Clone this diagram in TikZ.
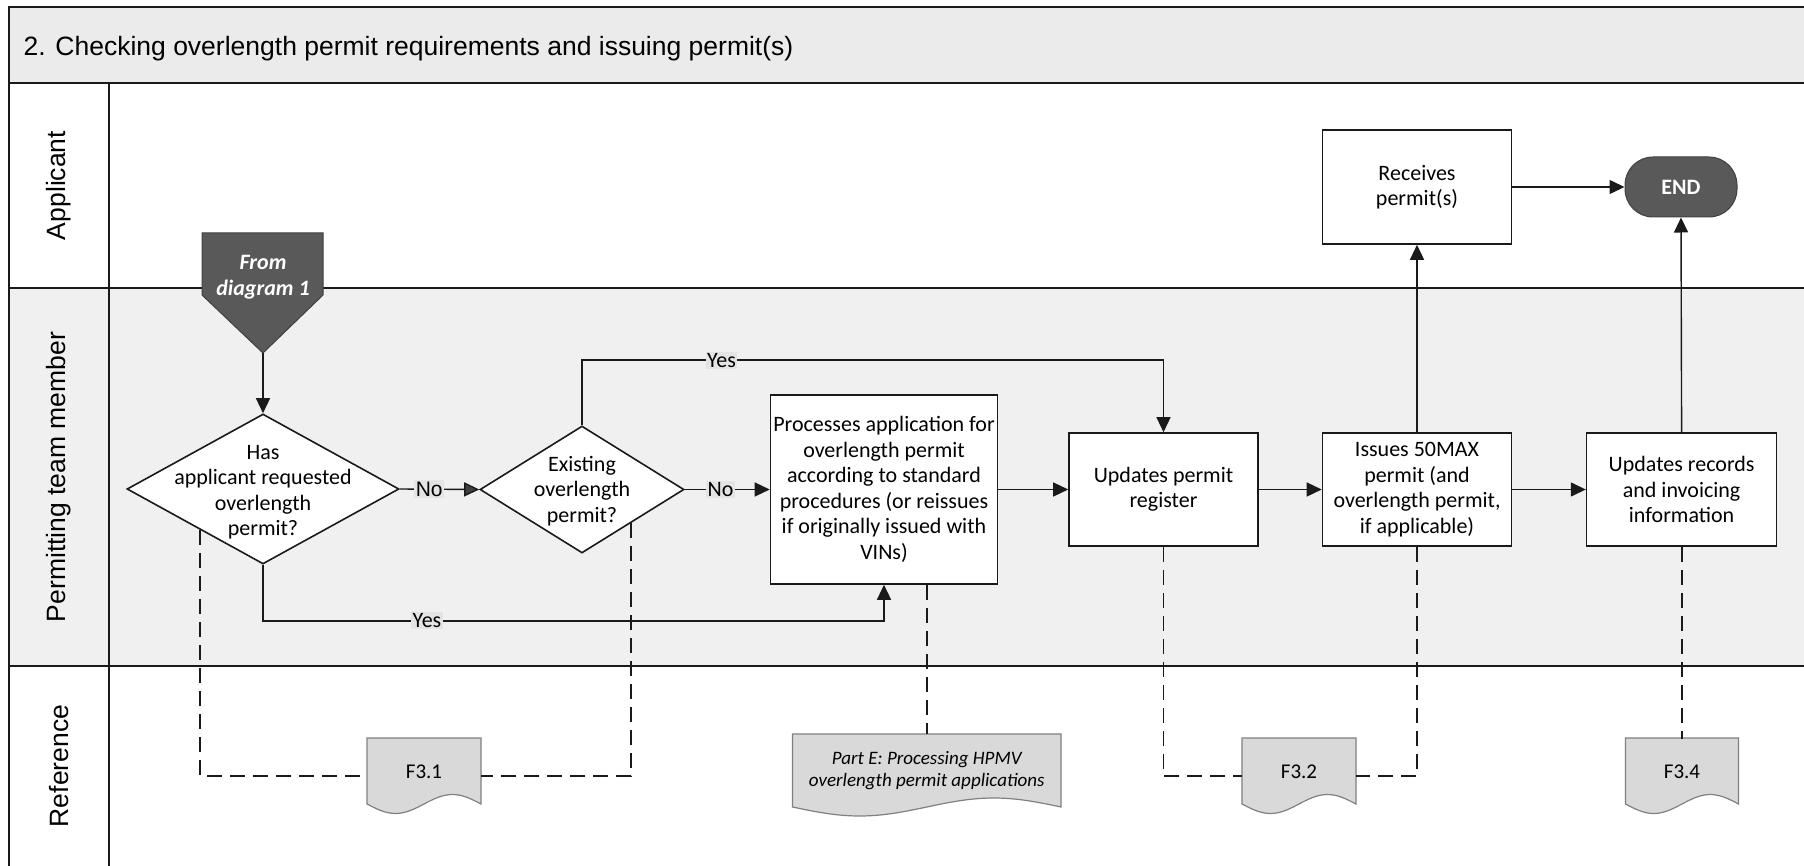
\documentclass[tikz,border=0pt]{standalone}
\usepackage{fontspec}
\setmainfont{Carlito}
\newfontfamily\arialf{Liberation Sans}
\usetikzlibrary{shapes.geometric,arrows.meta,calc}
\definecolor{titlebg}{HTML}{EBEBEB}
\definecolor{lanebg}{HTML}{F0F0F0}
\definecolor{darkfill}{HTML}{595959}
\definecolor{docfill}{HTML}{D9D9D9}
\definecolor{docline}{HTML}{808080}
\definecolor{lblbg}{HTML}{E4E4E4}
\definecolor{lineblk}{HTML}{1A1A1A}
\newcommand\docshape[5]{%
  \filldraw[fill=docfill, draw=docline, line width=1.2pt] (#1,#2) -- (#3,#2) -- (#3,#4)
    sin ({#3-0.25*(#3-#1)},{#4-#5}) cos ({#3-0.5*(#3-#1)},#4)
    sin ({#3-0.75*(#3-#1)},{#4+#5}) cos (#1,#4) -- cycle;}
\begin{document}
\begin{tikzpicture}[x=1pt,y=-1pt,
  lane/.style={line width=2.4pt, draw=lineblk},
  txt/.style={align=center, font=\fontsize{22}{25.5}\selectfont},
  box/.style={txt, draw=lineblk, line width=1.6pt, fill=white, inner sep=2pt},
  dec/.style={txt, diamond, draw=lineblk, line width=1.6pt, fill=white, inner sep=0pt},
  flow/.style={line width=1.4pt, draw=lineblk, -{Triangle[length=15pt,width=14pt]}},
  dashref/.style={line width=1.8pt, draw=lineblk, dash pattern=on 15pt off 8pt},
  lbl/.style={fill=lblbg, inner sep=1.5pt, font=\fontsize{22}{24}\selectfont},
  lanelabel/.style={rotate=90, font=\arialf\fontsize{26.5}{30}\selectfont},
  docnode/.style={inner sep=0pt, align=center, font=\fontsize{21}{24}\selectfont},
]
\useasboundingbox (0,0) rectangle (1804,866);
% swimlane backgrounds
\fill[titlebg] (9,7) rectangle (1804,83);
\fill[lanebg] (9,288) rectangle (1804,666);
\draw[lane] (1804,7) -- (9,7) -- (9,866);
\draw[lane] (9,83) -- (1804,83);
\draw[lane] (9,288) -- (1804,288);
\draw[lane] (9,666) -- (1804,666);
\draw[lane] (109,83) -- (109,866);
\node[anchor=base west, font=\arialf\fontsize{26.5}{30}\selectfont] (title) at (20,56)
  {2. Checking overlength permit requirements and issuing permit(s)};
\node[lanelabel] (laneA) at (59,185.5) {Applicant};
\node[lanelabel] (laneP) at (59,477) {Permitting team member};
\node[lanelabel] (laneR) at (59,766) {Reference};

% off-page connector
\filldraw[fill=darkfill, draw=black!75, line width=1pt]
  (202,233) -- (323,233) -- (323,295) -- (263,353) -- (202,295) -- cycle;
\node[txt, text=white, font=\bfseries\itshape\fontsize{22}{25.5}\selectfont] (from) at (263,277) {From\\diagram 1};
\coordinate (fromtip) at (263,353);

% decisions and process boxes
\node[dec, minimum width=272pt, minimum height=150pt] (d1) at (263,489) {};
\node[txt] (d1t) at (263,492) {Has\\applicant requested\\overlength\\permit?};
\node[dec, minimum width=204pt, minimum height=127pt] (d2) at (582,489.5) {};
\node[txt] (d2t) at (582,491) {Existing\\overlength\\permit?};
\node[box, minimum width=227pt, minimum height=189pt] (proc) at (884,489.5)
  {Processes application for\\overlength permit\\according to standard\\procedures (or reissues\\if originally issued with\\VINs)};
\node[box, minimum width=189pt, minimum height=113pt] (upd) at (1163.5,489.5) {Updates permit\\register};
\node[box, minimum width=189pt, minimum height=113pt] (iss) at (1417,489.5) {Issues 50MAX\\permit (and\\overlength permit,\\if applicable)};
\node[box, minimum width=190pt, minimum height=113pt] (rec) at (1681.6,489.5) {Updates records\\and invoicing\\information};
\node[box, minimum width=189pt, minimum height=114pt] (recv) at (1417,187) {Receives\\permit(s)};
\node[txt, draw=black!75, line width=1pt, fill=darkfill, text=white, rounded corners=28pt,
  minimum width=112pt, minimum height=60pt, inner sep=0pt, font=\bfseries\fontsize{22}{25}\selectfont] (endn) at (1681,187) {END};

% reference documents
\docshape{367}{738}{481}{804}{9.5}
\node[docnode, minimum width=114pt, minimum height=66pt] (f31) at (424,772) {F3.1};
\docshape{792.5}{734}{1061}{807}{9}
\node[docnode, minimum width=268.5pt, minimum height=73pt, font=\itshape\fontsize{19}{22}\selectfont] (parte) at (926.75,771)
  {Part E: Processing HPMV\\overlength permit applications};
\docshape{1242}{738}{1356}{804}{9.5}
\node[docnode, minimum width=114pt, minimum height=66pt] (f32) at (1299,772) {F3.2};
\docshape{1625.5}{738}{1738.5}{804}{9.5}
\node[docnode, minimum width=113pt, minimum height=66pt] (f34) at (1682,772) {F3.4};

% flow connectors
\draw[flow] (fromtip) -- (d1.north);
\draw[flow, -{Triangle[length=15pt,width=14pt,fill=black!75]}] (d1.east) -- node[lbl, pos=0.37, font=\arialf\fontsize{21}{24}\selectfont] (no1) {No} (d2.west);
\draw[flow] (d2.east) -- node[lbl, pos=0.42] (no2) {No} (proc.west);
\draw[flow] (d2.north) |- node[lbl, pos=0.62] (yes1) {Yes} ($(upd.north)+(0,-72)$) -- (upd.north);
\draw[flow] (d1.south) |- node[lbl, pos=0.632] (yes2) {Yes} ($(proc.south)+(0,36)$) -- (proc.south);
\draw[flow] (proc.east) -- (upd.west);
\draw[flow] (upd.east) -- (iss.west);
\draw[flow] (iss.east) -- (rec.west);
\draw[flow] (iss.north) -- (recv.south);
\draw[flow] (recv.east) -- (endn.west);
\draw[flow] (rec.north) -- (endn.south);

% reference links
\draw[dashref] ($(d1.west)!0.54!(d1.south)$) |- ([yshift=-4pt]f31.west);
\draw[dashref] ($(d2.east)!0.52!(d2.south)$) |- ([yshift=-4pt]f31.east);
\draw[dashref] (parte.north |- proc.south) -- (parte.north);
\draw[dashref] (upd.south) |- ([yshift=-4pt]f32.west);
\draw[dashref] (iss.south) |- ([yshift=-4pt]f32.east);
\draw[dashref] (rec.south) -- (rec.south |- f34.north);
\end{tikzpicture}
\end{document}
